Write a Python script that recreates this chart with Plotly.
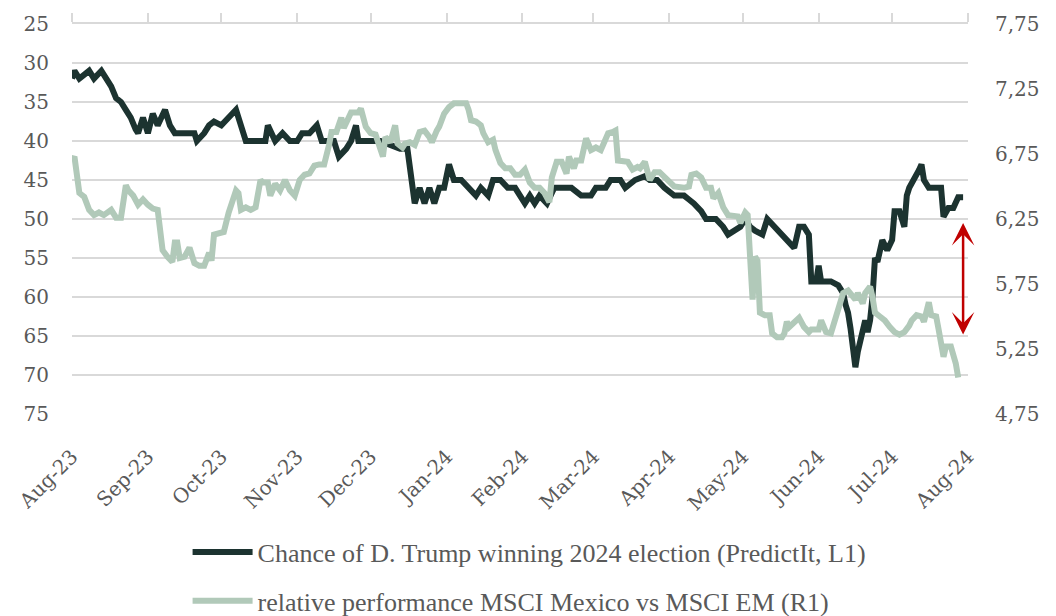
import plotly.graph_objects as go

# PredictIt odds of a Trump win (left axis, %)
trump_dates = [
    "2023-08-01", "2023-08-02", "2023-08-04", "2023-08-08", "2023-08-10", "2023-08-13", "2023-08-15",
    "2023-08-17", "2023-08-19", "2023-08-21", "2023-08-23", "2023-08-25", "2023-08-27", "2023-08-28",
    "2023-08-30", "2023-09-01", "2023-09-03", "2023-09-05", "2023-09-08", "2023-09-10", "2023-09-12",
    "2023-09-16", "2023-09-20", "2023-09-21", "2023-09-24", "2023-09-26", "2023-09-28", "2023-10-01",
    "2023-10-04", "2023-10-07", "2023-10-09", "2023-10-11", "2023-10-15", "2023-10-19", "2023-10-20",
    "2023-10-23", "2023-10-26", "2023-10-29", "2023-11-01", "2023-11-03", "2023-11-06", "2023-11-09",
    "2023-11-11", "2023-11-16", "2023-11-18", "2023-11-21", "2023-11-23", "2023-11-25", "2023-11-26",
    "2023-12-01", "2023-12-05", "2023-12-09", "2023-12-13", "2023-12-16", "2023-12-18", "2023-12-19",
    "2023-12-21", "2023-12-23", "2023-12-25", "2023-12-27", "2023-12-29", "2023-12-31", "2024-01-02",
    "2024-01-04", "2024-01-07", "2024-01-10", "2024-01-13", "2024-01-15", "2024-01-18", "2024-01-20",
    "2024-01-23", "2024-01-26", "2024-01-29", "2024-01-31", "2024-02-02", "2024-02-04", "2024-02-06",
    "2024-02-08", "2024-02-11", "2024-02-14", "2024-02-18", "2024-02-21", "2024-02-25", "2024-02-29",
    "2024-03-02", "2024-03-06", "2024-03-08", "2024-03-12", "2024-03-14", "2024-03-18", "2024-03-22",
    "2024-03-24", "2024-03-27", "2024-03-30", "2024-04-03", "2024-04-07", "2024-04-09", "2024-04-11",
    "2024-04-14", "2024-04-16", "2024-04-20", "2024-04-23", "2024-04-25", "2024-04-28", "2024-04-30",
    "2024-05-02", "2024-05-04", "2024-05-06", "2024-05-09", "2024-05-11", "2024-05-14", "2024-05-17",
    "2024-05-19", "2024-05-22", "2024-05-24", "2024-05-26", "2024-05-28", "2024-05-29", "2024-05-31",
    "2024-06-01", "2024-06-02", "2024-06-06", "2024-06-09", "2024-06-11", "2024-06-12", "2024-06-13",
    "2024-06-14", "2024-06-15", "2024-06-16", "2024-06-17", "2024-06-19", "2024-06-20", "2024-06-21",
    "2024-06-22", "2024-06-23", "2024-06-24", "2024-06-25", "2024-06-26", "2024-06-27", "2024-06-29",
    "2024-07-01", "2024-07-02", "2024-07-04", "2024-07-06", "2024-07-07", "2024-07-08", "2024-07-10",
    "2024-07-12", "2024-07-13", "2024-07-14", "2024-07-16", "2024-07-21", "2024-07-22", "2024-07-24",
    "2024-07-26", "2024-07-28", "2024-07-30",
]
trump_odds = [
    32, 31, 32, 31, 32, 31, 32,
    33, 34.5, 35, 36, 37, 38.5, 39,
    37, 39, 36.5, 38, 36, 38, 39,
    39, 39, 40, 39, 38, 37.5, 38,
    37, 36, 38, 40, 40, 40, 38,
    40, 39, 40, 40, 39, 39, 38,
    40, 40, 42, 41, 40, 38, 40,
    40, 40, 40.5, 41, 41, 46, 48,
    46, 48, 46, 48, 46, 46, 43,
    45, 45, 46, 47, 46, 47, 45,
    45, 46, 46, 47, 48, 47, 48,
    47, 48, 46, 46, 46, 47, 47,
    46, 46, 45, 45, 46, 45, 44.5,
    45, 45, 46, 47, 47, 47.5, 48,
    49, 50, 50, 51, 52, 51.5, 51,
    50, 51, 51.5, 52, 50, 51, 52,
    52.7, 53.7, 51, 51, 52, 58, 58,
    56, 58, 58, 58.5, 59.5, 61, 62,
    64, 66.5, 69, 67, 64, 63, 64.5,
    63, 60, 55, 55.5, 54, 52.7, 54,
    52.7, 49, 49, 51, 47, 46, 45,
    43.7, 43, 45, 46, 46, 49.7, 48.6,
    48.6, 47.2, 47.2,
]

# MSCI Mexico relative to MSCI EM (right axis)
mexico_dates = [
    "2023-08-01", "2023-08-02", "2023-08-04", "2023-08-06", "2023-08-08", "2023-08-10", "2023-08-12",
    "2023-08-14", "2023-08-17", "2023-08-19", "2023-08-21", "2023-08-23", "2023-08-24", "2023-08-26",
    "2023-08-28", "2023-08-30", "2023-09-01", "2023-09-03", "2023-09-05", "2023-09-06", "2023-09-07",
    "2023-09-09", "2023-09-11", "2023-09-12", "2023-09-13", "2023-09-14", "2023-09-16", "2023-09-18",
    "2023-09-20", "2023-09-22", "2023-09-24", "2023-09-26", "2023-09-27", "2023-09-28", "2023-09-30",
    "2023-10-02", "2023-10-04", "2023-10-05", "2023-10-07", "2023-10-08", "2023-10-09", "2023-10-11",
    "2023-10-13", "2023-10-15", "2023-10-16", "2023-10-17", "2023-10-18", "2023-10-20", "2023-10-21",
    "2023-10-23", "2023-10-25", "2023-10-27", "2023-10-29", "2023-10-31", "2023-11-02", "2023-11-04",
    "2023-11-06", "2023-11-08", "2023-11-10", "2023-11-12", "2023-11-14", "2023-11-15", "2023-11-17",
    "2023-11-19", "2023-11-20", "2023-11-22", "2023-11-23", "2023-11-26", "2023-11-27", "2023-11-29",
    "2023-12-01", "2023-12-03", "2023-12-05", "2023-12-06", "2023-12-07", "2023-12-09", "2023-12-11",
    "2023-12-12", "2023-12-14", "2023-12-15", "2023-12-17", "2023-12-19", "2023-12-21", "2023-12-23",
    "2023-12-25", "2023-12-26", "2023-12-28", "2023-12-29", "2023-12-31", "2024-01-02", "2024-01-04",
    "2024-01-06", "2024-01-09", "2024-01-10", "2024-01-11", "2024-01-13", "2024-01-15", "2024-01-16",
    "2024-01-18", "2024-01-20", "2024-01-21", "2024-01-23", "2024-01-25", "2024-01-27", "2024-01-29",
    "2024-01-31", "2024-02-02", "2024-02-04", "2024-02-06", "2024-02-08", "2024-02-10", "2024-02-12",
    "2024-02-13", "2024-02-15", "2024-02-17", "2024-02-19", "2024-02-20", "2024-02-22", "2024-02-23",
    "2024-02-25", "2024-02-27", "2024-02-29", "2024-03-02", "2024-03-04", "2024-03-05", "2024-03-07",
    "2024-03-09", "2024-03-10", "2024-03-11", "2024-03-13", "2024-03-15", "2024-03-17", "2024-03-19",
    "2024-03-20", "2024-03-22", "2024-03-24", "2024-03-26", "2024-03-28", "2024-03-30", "2024-04-01",
    "2024-04-03", "2024-04-07", "2024-04-09", "2024-04-10", "2024-04-12", "2024-04-14", "2024-04-16",
    "2024-04-18", "2024-04-19", "2024-04-21", "2024-04-23", "2024-04-25", "2024-04-29", "2024-04-30",
    "2024-05-02", "2024-05-03", "2024-05-05", "2024-05-06", "2024-05-07", "2024-05-08", "2024-05-10",
    "2024-05-12", "2024-05-13", "2024-05-15", "2024-05-17", "2024-05-18", "2024-05-19", "2024-05-20",
    "2024-05-22", "2024-05-24", "2024-05-26", "2024-05-28", "2024-05-29", "2024-06-01", "2024-06-02",
    "2024-06-04", "2024-06-06", "2024-06-08", "2024-06-10", "2024-06-11", "2024-06-13", "2024-06-15",
    "2024-06-16", "2024-06-17", "2024-06-19", "2024-06-20", "2024-06-22", "2024-06-23", "2024-06-24",
    "2024-06-26", "2024-06-28", "2024-06-30", "2024-07-02", "2024-07-04", "2024-07-06", "2024-07-08",
    "2024-07-09", "2024-07-11", "2024-07-13", "2024-07-14", "2024-07-15", "2024-07-16", "2024-07-17",
    "2024-07-19", "2024-07-20", "2024-07-21", "2024-07-22", "2024-07-23", "2024-07-25", "2024-07-27",
    "2024-07-28",
]
mexico_rel = [
    6.70, 6.73, 6.45, 6.42, 6.32, 6.28, 6.30,
    6.28, 6.32, 6.26, 6.26, 6.51, 6.47, 6.43,
    6.36, 6.40, 6.36, 6.33, 6.32, 6.20, 6.01,
    5.96, 5.92, 6.07, 6.07, 5.95, 5.96, 6.03,
    5.91, 5.89, 5.89, 5.99, 5.93, 6.13, 6.14,
    6.15, 6.30, 6.37, 6.47, 6.45, 6.32, 6.34,
    6.32, 6.34, 6.43, 6.55, 6.53, 6.53, 6.43,
    6.52, 6.47, 6.55, 6.47, 6.43, 6.55, 6.59,
    6.60, 6.66, 6.67, 6.67, 6.82, 6.92, 6.92,
    7.03, 6.95, 7.05, 7.07, 7.07, 7.10, 6.96,
    6.91, 6.90, 6.80, 6.73, 6.88, 6.84, 6.97,
    6.83, 6.80, 6.83, 6.84, 6.82, 6.92, 6.93,
    6.88, 6.84, 6.93, 6.96, 7.06, 7.11, 7.14,
    7.14, 7.14, 7.09, 7.01, 7.00, 6.97, 6.91,
    6.84, 6.86, 6.78, 6.68, 6.64, 6.64, 6.59,
    6.59, 6.63, 6.53, 6.49, 6.49, 6.45, 6.38,
    6.57, 6.69, 6.69, 6.60, 6.73, 6.64, 6.70,
    6.70, 6.87, 6.78, 6.80, 6.78, 6.83, 6.91,
    6.92, 6.93, 6.70, 6.69, 6.69, 6.63, 6.65,
    6.64, 6.69, 6.55, 6.61, 6.61, 6.57, 6.53,
    6.50, 6.49, 6.50, 6.59, 6.60, 6.57, 6.49,
    6.49, 6.41, 6.45, 6.34, 6.28, 6.27, 6.22,
    6.30, 6.28, 5.63, 5.96, 5.93, 5.53, 5.51,
    5.51, 5.37, 5.34, 5.34, 5.37, 5.46, 5.42,
    5.45, 5.49, 5.42, 5.38, 5.40, 5.40, 5.47,
    5.38, 5.37, 5.50, 5.60, 5.68, 5.70, 5.65,
    5.63, 5.68, 5.60, 5.68, 5.73, 5.65, 5.53,
    5.50, 5.47, 5.42, 5.38, 5.36, 5.38, 5.43,
    5.47, 5.51, 5.50, 5.46, 5.53, 5.61, 5.51,
    5.50, 5.40, 5.30, 5.19, 5.27, 5.27, 5.14,
    5.03,
]

month_ticks = [
    "2023-08-01", "2023-09-01", "2023-10-01", "2023-11-01", "2023-12-01", "2024-01-01", "2024-02-01",
    "2024-03-01", "2024-04-01", "2024-05-01", "2024-06-01", "2024-07-01", "2024-08-01",
]
month_labels = [
    "Aug-23", "Sep-23", "Oct-23", "Nov-23", "Dec-23", "Jan-24", "Feb-24",
    "Mar-24", "Apr-24", "May-24", "Jun-24", "Jul-24", "Aug-24",
]

DARK = "#1c3330"
LIGHT = "#b1c9b9"
GRID = "#d9d9d9"
TEXT = "#595959"
TICK_FONT = dict(family="DejaVu Serif", size=20, color=TEXT)
X_RANGE = ["2023-08-01", "2024-08-01"]

fig = go.Figure()
fig.add_trace(go.Scatter(
    x=trump_dates, y=trump_odds, mode="lines", xaxis="x", yaxis="y",
    name="Chance of D. Trump winning 2024 election (PredictIt, L1)",
    line=dict(color=DARK, width=6), legendgroup="a",
))
# secondary series sits on the overlaid x2/y2 pair (x2 carries the top tick marks)
fig.add_trace(go.Scatter(
    x=mexico_dates, y=mexico_rel, mode="lines", xaxis="x2", yaxis="y2",
    name="relative performance MSCI Mexico vs MSCI EM (R1)",
    line=dict(color=LIGHT, width=6), legendgroup="b",
))

# gap between the two series, on the left scale
fig.add_annotation(
    x="2024-07-30", y=50.5, ax="2024-07-30", ay=65,
    xref="x", yref="y", axref="x", ayref="y", text="",
    showarrow=True, arrowside="end+start", arrowhead=3, startarrowhead=3,
    arrowsize=1.5, startarrowsize=1.5, arrowwidth=2.5, arrowcolor="#c00000",
    standoff=0, startstandoff=0,
)

fig.update_layout(
    width=1056, height=616,
    margin=dict(l=72, r=88, t=24, b=202, autoexpand=False),
    paper_bgcolor="white", plot_bgcolor="white",
    separators=",.",
    showlegend=True,
    legend=dict(
        xref="paper", x=0.129, yref="container", y=0.1418, xanchor="left", yanchor="top",
        font=dict(family="Liberation Serif", size=26, color=TEXT),
        traceorder="grouped", tracegroupgap=12, itemwidth=60,
        bgcolor="rgba(0,0,0,0)",
    ),
    xaxis=dict(
        type="date", range=X_RANGE, automargin=False,
        tickvals=month_ticks, ticktext=month_labels, tickangle=-45,
        tickfont=TICK_FONT, showgrid=False, zeroline=False, showline=False,
        ticks="outside", ticklen=22, tickcolor="rgba(0,0,0,0)",
    ),
    xaxis2=dict(
        type="date", range=X_RANGE, overlaying="x", side="top", anchor="y2", automargin=False,
        tickvals=month_ticks, showticklabels=False, showgrid=False, zeroline=False,
        showline=True, linecolor=GRID, linewidth=1.5,
        ticks="outside", ticklen=9, tickcolor=GRID, tickwidth=1.5,
    ),
    yaxis=dict(
        range=[75, 25], tick0=25, dtick=5, tickfont=TICK_FONT, automargin=False,
        showgrid=True, gridcolor=GRID, gridwidth=1.5, zeroline=False, showline=False,
        ticklabelstandoff=22,
    ),
    yaxis2=dict(
        range=[4.75, 7.75], tick0=4.75, dtick=0.5, tickformat=".2f", tickfont=TICK_FONT,
        overlaying="y", side="right", anchor="x2", automargin=False,
        showgrid=False, zeroline=False, showline=False,
        ticklabelstandoff=26,
    ),
)

fig.write_html("out.html")
